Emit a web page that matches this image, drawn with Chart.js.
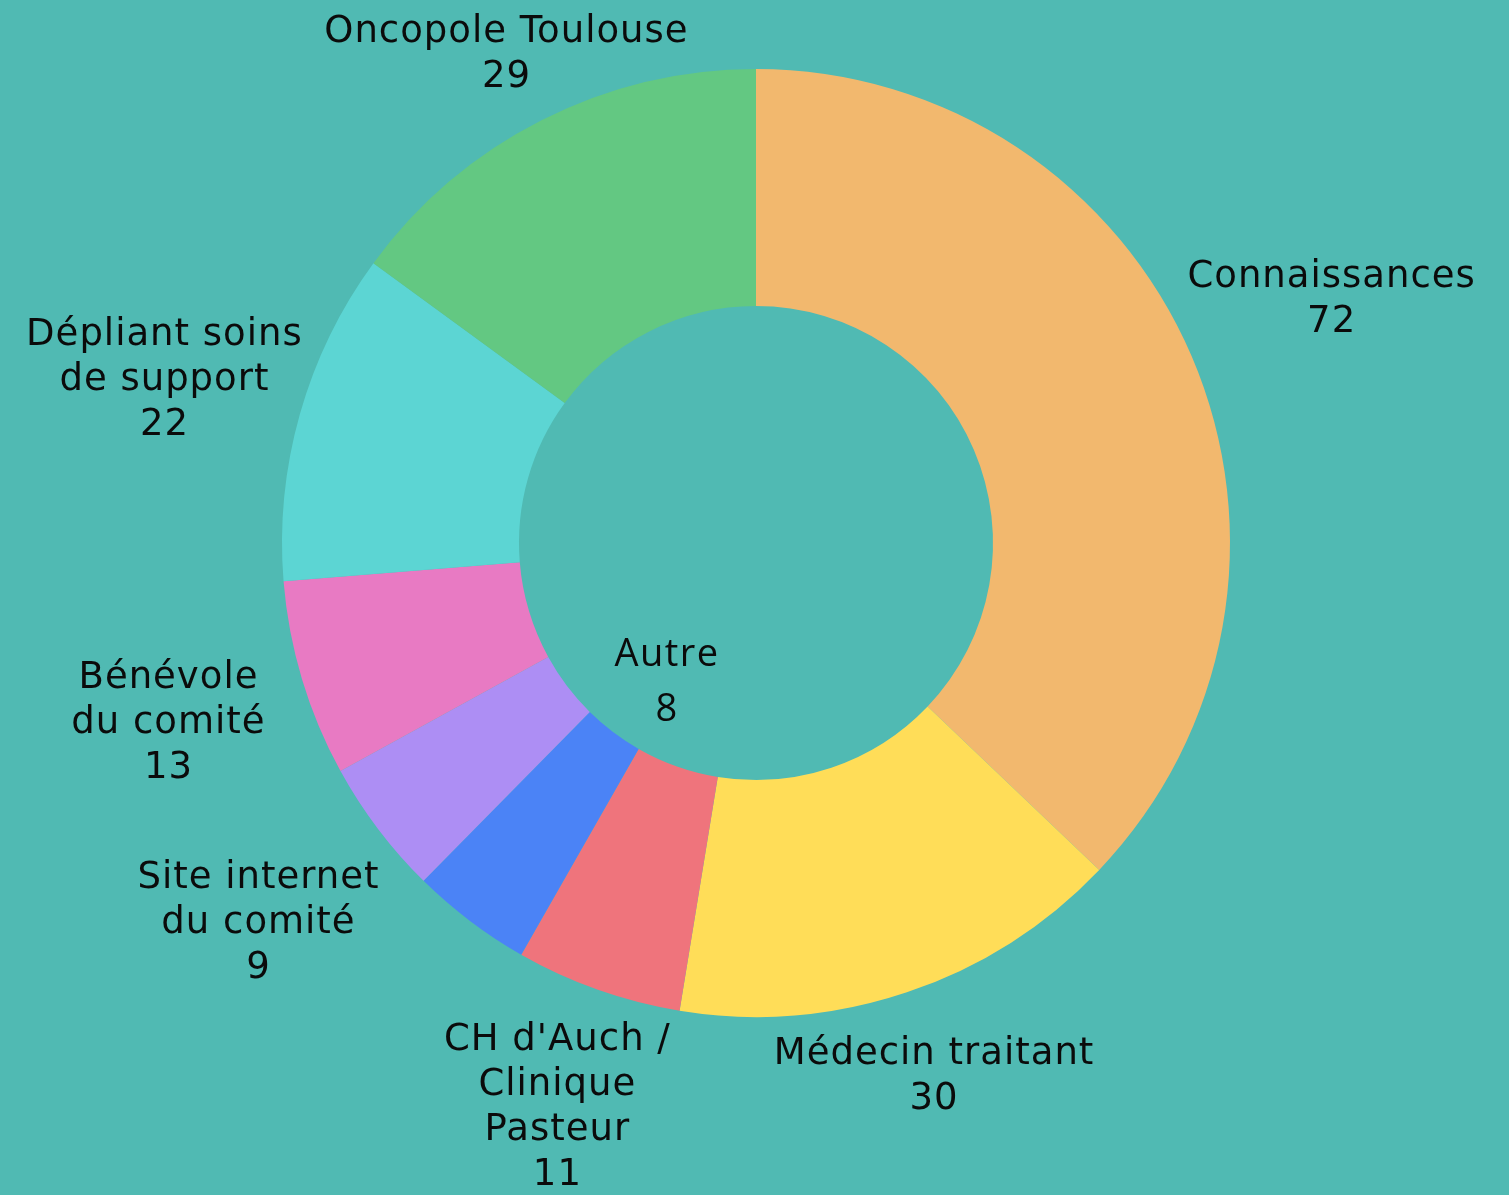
<!DOCTYPE html>
<html lang="fr">
<head>
<meta charset="utf-8">
<title>Comment avez-vous connu le comité ?</title>
<script src="https://cdn.jsdelivr.net/npm/chart.js@4.4.1/dist/chart.umd.min.js"></script>
<style>
    html, body {
        margin: 0;
        padding: 0;
        background: #50bab3;
    }
    .wrap {
        position: relative;
        width: 1509px;
        height: 1195px;
    }
</style>
</head>
<body>
<div class="wrap">
    <canvas id="sourcesChart"></canvas>
</div>
<script>
// Data
const categories = [
    ['Connaissances'],
    ['Médecin traitant'],
    ["CH d'Auch /", 'Clinique', 'Pasteur'],
    ['Autre'],
    ['Site internet', 'du comité'],
    ['Bénévole', 'du comité'],
    ['Dépliant soins', 'de support'],
    ['Oncopole Toulouse']
];
const counts = [72, 30, 11, 8, 9, 13, 22, 29];
const sliceColors = ['#f2b86e', '#ffdd58', '#ef747c', '#4b83f6', '#ad8ef4', '#e87ac3', '#5cd5d3', '#63c882'];
// labels drawn inside the hole instead of around the ring
const insideLabels = ['Autre'];

document.addEventListener('DOMContentLoaded', () => {
    const ctx = document.getElementById('sourcesChart').getContext('2d');

    const sliceLabels = {
        id: 'sliceLabels',
        afterDatasetsDraw(chart) {
            const c = chart.ctx;
            const meta = chart.getDatasetMeta(0);
            const W = chart.width, H = chart.height;
            const margin = 26;
            const lineH = 45;
            const nudge = 4; // glyphs sit a bit high with 'middle' baseline
            c.save();
            c.fillStyle = '#0b0b0b';
            c.textAlign = 'center';
            c.textBaseline = 'middle';
            meta.data.forEach((arc, i) => {
                const p = arc.getProps(['x', 'y', 'startAngle', 'endAngle', 'outerRadius', 'innerRadius'], true);
                const mid = (p.startAngle + p.endAngle) / 2;
                const vx = Math.cos(mid), vy = Math.sin(mid);
                const lines = categories[i].concat([String(counts[i])]);

                if (insideLabels.includes(categories[i][0])) {
                    c.font = '38px "Open Sans"';
                    c.letterSpacing = '1.5px';
                    const d = p.innerRadius * 0.72;
                    const cx = p.x + vx * d + 14, cy = p.y + vy * d + 4;
                    const gap = 55;
                    const top = cy - (lines.length - 1) * gap / 2;
                    lines.forEach((t, k) => c.fillText(t, cx, top + k * gap));
                    return;
                }

                c.font = '37px "DejaVu Sans"';
                c.letterSpacing = '1px';
                const w = Math.max(...lines.map(t => c.measureText(t).width));
                const h = lines.length * lineH;
                const toEdge = Math.min(
                    Math.abs(vx) > 1e-6 ? (w / 2) / Math.abs(vx) : Infinity,
                    Math.abs(vy) > 1e-6 ? (h / 2) / Math.abs(vy) : Infinity
                );
                let d = p.outerRadius + 38 + toEdge;
                // slide back along the ray if the box would leave the canvas
                for (let k = 0; k < 200; k++) {
                    const cx = p.x + vx * d, cy = p.y + vy * d;
                    if (cx - w / 2 >= margin && cx + w / 2 <= W - margin &&
                        cy - h / 2 >= 6 && cy + h / 2 <= H) break;
                    d -= 1;
                }
                const cx = p.x + vx * d, cy = p.y + vy * d + nudge;
                const top = cy - h / 2 + lineH / 2;
                lines.forEach((t, k) => c.fillText(t, cx, top + k * lineH));
            });
            c.restore();
        }
    };

    new Chart(ctx, {
        type: 'doughnut',
        data: {
            labels: categories,
            datasets: [{
                data: counts,
                backgroundColor: sliceColors,
                borderWidth: 0,
                hoverOffset: 0
            }]
        },
        options: {
            responsive: true,
            maintainAspectRatio: false,
            animation: false,
            cutout: '50%',
            layout: {
                padding: { left: 282, right: 279, top: 69, bottom: 178 }
            },
            plugins: {
                legend: { display: false },
                tooltip: { enabled: false }
            }
        },
        plugins: [sliceLabels]
    });
});
</script>
</body>
</html>
